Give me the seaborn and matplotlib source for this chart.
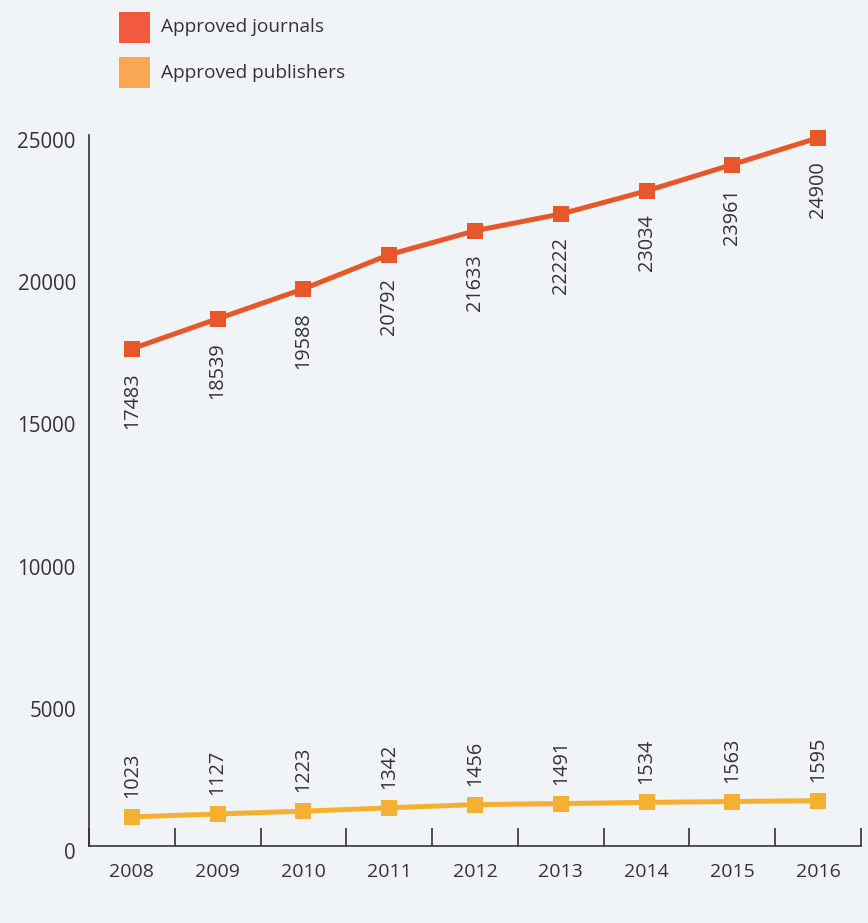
import matplotlib
matplotlib.use("Agg")
import matplotlib.pyplot as plt
from matplotlib.patches import Rectangle
from matplotlib.transforms import ScaledTranslation
import seaborn as sns
import pandas as pd

years = [2008, 2009, 2010, 2011, 2012, 2013, 2014, 2015, 2016]
journals = [17483, 18539, 19588, 20792, 21633, 22222, 23034, 23961, 24900]
publishers = [1023, 1127, 1223, 1342, 1456, 1491, 1534, 1563, 1595]
series_names = ["Approved journals", "Approved publishers"]
y_ticks = [0, 5000, 10000, 15000, 20000, 25000]

line_colors = {"Approved journals": "#e8572a", "Approved publishers": "#f5b031"}
legend_colors = ["#f25a3e", "#f9a752"]
bg = "#f1f4f6"
txt = "#333333"

df = pd.DataFrame({
    "year": years * 2,
    "value": journals + publishers,
    "series": [series_names[0]] * len(years) + [series_names[1]] * len(years),
})

sns.set_theme(style="white")
plt.rcParams["font.family"] = ["Open Sans", "DejaVu Sans"]

W, H = 868, 923
fig = plt.figure(figsize=(W/100, H/100), dpi=100, facecolor=bg)
ax = fig.add_axes([89/W, 1 - 846/H, (861-89)/W, (846-135)/H])
ax.set_facecolor(bg)

sns.lineplot(data=df, x="year", y="value", hue="series", palette=line_colors,
             marker="s", markersize=11.5, markeredgewidth=0, linewidth=3.6,
             ax=ax, legend=False)
for ln in ax.lines:
    ln.set_clip_on(False)

ax.set_xlim(2007.5, 2016.5)
ax.set_ylim(0, 25000)
ax.set_xlabel("")
ax.set_ylabel("")

for s in ["top", "right"]:
    ax.spines[s].set_visible(False)
for s in ["left", "bottom"]:
    ax.spines[s].set_color(txt)
    ax.spines[s].set_linewidth(1.2)

ax.set_xticks(years)
ax.set_xticklabels([str(y) for y in years], fontsize=14, color=txt)
ax.set_xticks([y - 0.5 for y in years] + [years[-1] + 0.5], minor=True)
ax.tick_params(axis="x", which="major", bottom=True, length=0, pad=12)
ax.tick_params(axis="x", which="minor", bottom=True, direction="in",
               length=13, width=1.2, color=txt)

ax.set_yticks(y_ticks)
ax.set_yticklabels([str(v) for v in y_ticks], fontsize=14.8, color=txt)
ax.tick_params(axis="y", left=False, length=0, pad=9.5)
off = ScaledTranslation(0, -5/100, fig.dpi_scale_trans)
for lbl in ax.get_yticklabels():
    lbl.set_transform(lbl.get_transform() + off)

for x, v in zip(years, journals):
    ax.annotate(str(v), (x, v), xytext=(0, -17), textcoords="offset points",
                rotation=90, ha="center", va="top", fontsize=14.3, color=txt)
for x, v in zip(years, publishers):
    ax.annotate(str(v), (x, v), xytext=(0, 13.5), textcoords="offset points",
                rotation=90, ha="center", va="bottom", fontsize=14.3, color=txt)

# legend (figure pixel coordinates)
legend_rows = [(12, series_names[0], legend_colors[0]),
               (57, series_names[1], legend_colors[1])]
for top, name, col in legend_rows:
    fig.add_artist(Rectangle((119/W, 1 - (top + 31)/H), 31/W, 31/H,
                             transform=fig.transFigure, facecolor=col,
                             edgecolor="none"))
    fig.text(161/W, 1 - (top + 15.5)/H, name, fontsize=13.7, color=txt,
             ha="left", va="center")

fig.savefig("out.png", dpi=100, facecolor=bg)
